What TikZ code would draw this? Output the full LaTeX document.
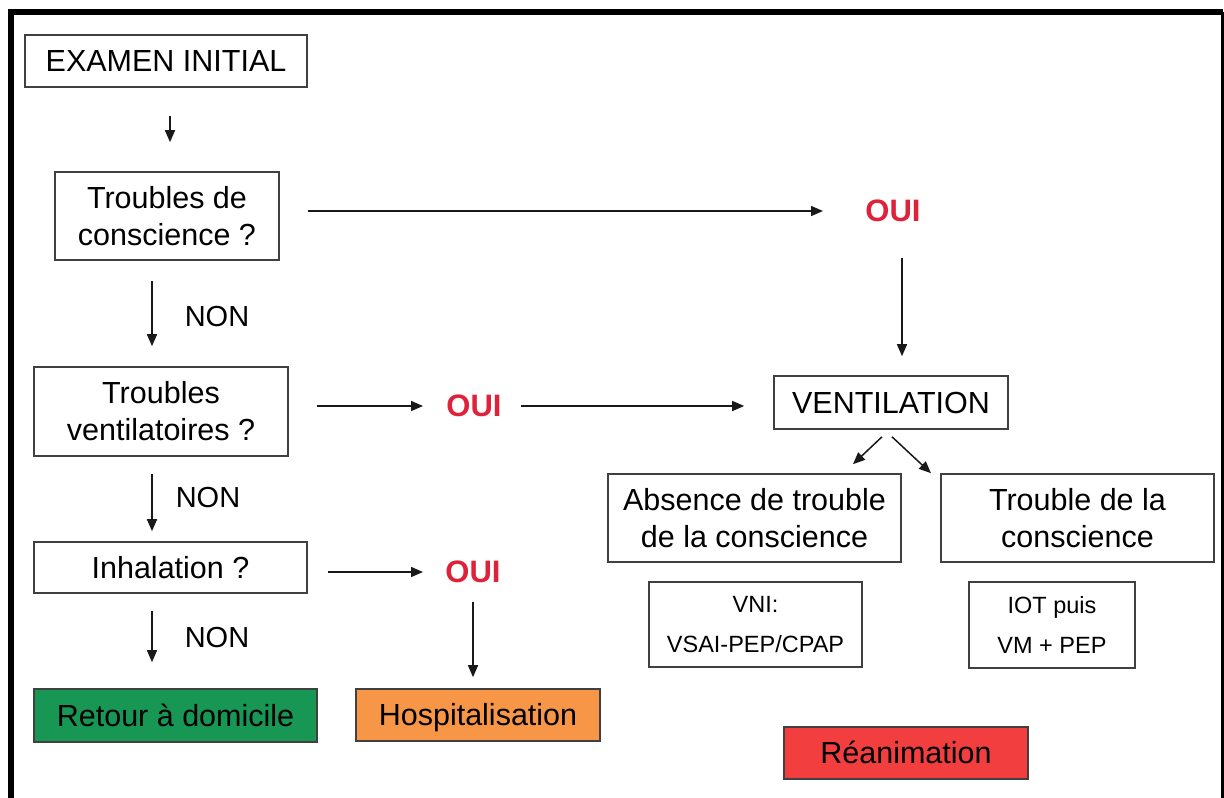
\documentclass[tikz,border=0pt]{standalone}
\usepackage{fontspec}
\setmainfont{Liberation Sans}
\usetikzlibrary{arrows.meta}

\definecolor{ouired}{RGB}{222,34,58}
\definecolor{homegreen}{RGB}{24,150,84}
\definecolor{hosporange}{RGB}{247,150,70}
\definecolor{icured}{RGB}{242,62,62}

\begin{document}
\begin{tikzpicture}[x=1pt,y=-1pt,
    box/.style={draw=black!75,line width=1.6pt,align=center,inner sep=2pt,
      font=\fontsize{30.5}{37}\selectfont},
    oneline/.style={box,text height=21.8pt,text depth=0pt},
    small/.style={box,font=\fontsize{23.5}{40}\selectfont},
    oui/.style={text=ouired,inner sep=0pt,font=\fontsize{31}{31}\selectfont\bfseries},
    non/.style={inner sep=0pt,font=\fontsize{29}{29}\selectfont},
    arr/.style={draw=black!90,line width=1.5pt,-{Triangle[length=12pt,width=10pt]}}]
  \useasboundingbox (0,0) rectangle (1224,798);
  % frame
  \draw[line width=6pt] (10.5,798) -- (10.5,12) -- (1223,12);
  \draw[line width=3pt] (1222,12) -- (1222,798);
  % left column
  \node[oneline,minimum width=282,minimum height=52] (exam) at (166,61) {EXAMEN INITIAL};
  \node[box,minimum width=224,minimum height=88] (tdc) at (167,216) {Troubles de\\conscience ?};
  \node[box,minimum width=254,minimum height=89] (tvent) at (161,411.5) {Troubles\\ventilatoires ?};
  \node[oneline,minimum width=273,minimum height=51] (inh) at (170.5,567.5) {Inhalation ?};
  \node[oneline,fill=homegreen,minimum width=283,minimum height=53] (home) at (175.5,715.5) {Retour à domicile};
  \node[non] (non1) at (217,317) {NON};
  \node[non] (non2) at (208,498) {NON};
  \node[non] (non3) at (217,638) {NON};
  % answers
  \node[oui] (oui1) at (893,211) {OUI};
  \node[oui] (oui2) at (474,406) {OUI};
  \node[oui] (oui3) at (473,572) {OUI};
  \node[oneline,fill=hosporange,minimum width=244,minimum height=52] (hosp) at (478,715) {Hospitalisation};
  % right part
  \node[oneline,minimum width=234,minimum height=53] (vent) at (891,402.5) {VENTILATION};
  \node[box,minimum width=293,minimum height=88] (nocons) at (754.5,518) {Absence de trouble\\de la conscience};
  \node[box,minimum width=273,minimum height=88] (cons) at (1077.5,518) {Trouble de la\\conscience};
  \node[small,minimum width=213,minimum height=85] (vni) at (755.5,624.5) {VNI:\\VSAI-PEP/CPAP};
  \node[small,minimum width=166,minimum height=86] (iot) at (1052,625) {IOT puis\\VM + PEP};
  \node[oneline,fill=icured,minimum width=244,minimum height=52] (rea) at (906,753) {Réanimation};
  % arrows
  \draw[arr,shorten <=28pt,shorten >=29pt] ([xshift=4pt]exam.south) -- ([xshift=3pt]tdc.north);
  \draw[arr,shorten <=20pt,shorten >=20pt] ([xshift=-15pt]tdc.south) -- ([xshift=-9pt]tvent.north);
  \draw[arr,shorten <=17pt,shorten >=10pt] ([xshift=-9pt]tvent.south) -- ([xshift=-18.5pt]inh.north);
  \draw[arr,shorten <=17pt,shorten >=26pt] ([xshift=-18.5pt]inh.south) -- ([xshift=-23.5pt]home.north);
  \draw[arr,shorten <=28pt,shorten >=70pt] (tdc.east |- oui1.center) -- (oui1.center);
  \draw[arr,shorten <=47pt,shorten >=19pt] ([xshift=9pt]oui1.center) -- ([xshift=11pt]vent.north);
  \draw[arr,shorten <=28pt,shorten >=51pt] (tvent.east |- oui2.center) -- (oui2.center);
  \draw[arr,shorten <=47pt,shorten >=29pt] (oui2.center) -- (oui2.center -| vent.west);
  \draw[arr,shorten <=20pt,shorten >=50pt] (inh.east |- oui3.center) -- (oui3.center);
  \draw[arr,shorten <=30pt,shorten >=11pt] (oui3.center) -- (oui3.center |- hosp.north);
  \draw[arr] ([xshift=-9pt,yshift=-7pt]vent.south) -- ([xshift=98.5pt,yshift=9pt]nocons.north);
  \draw[arr] ([xshift=1pt,yshift=-7pt]vent.south) -- ([xshift=-146.5pt]cons.north);
\end{tikzpicture}
\end{document}
